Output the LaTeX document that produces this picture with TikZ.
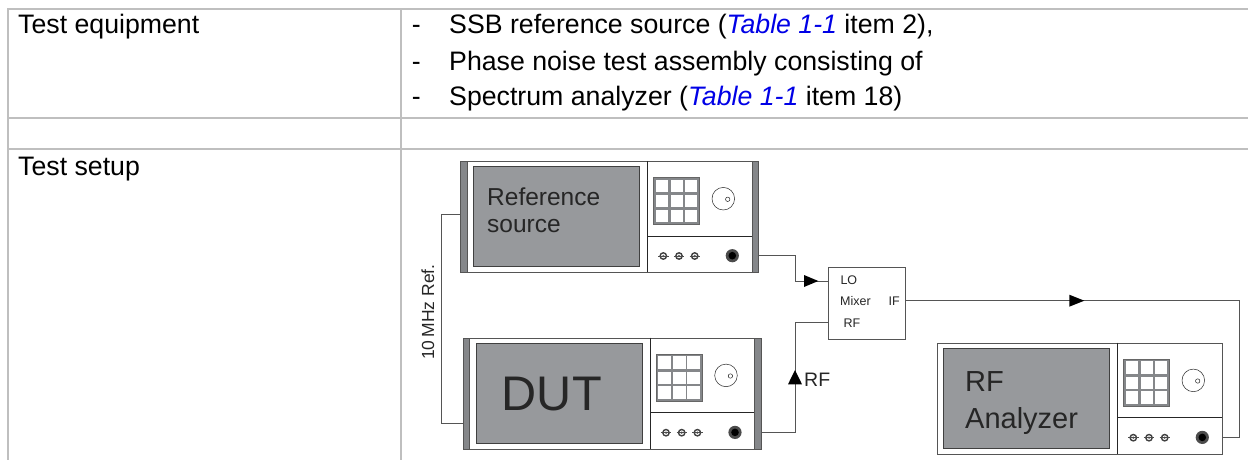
\documentclass[tikz,border=0pt]{standalone}
\usepackage{fontspec}
\setmainfont{Liberation Sans}
\definecolor{tableline}{HTML}{BFBFBF}
\definecolor{screengray}{HTML}{97999C}
\definecolor{inkgray}{HTML}{555555}
\definecolor{barfill}{HTML}{85878A}
\definecolor{linkblue}{HTML}{0000E6}
\newcommand{\fsz}[1]{\fontsize{#1}{#1}\selectfont}
\newcommand{\tlink}{\textcolor{linkblue}{\itshape Table 1-1}}
\tikzset{
  x=1pt,y=-1pt,
  tablerule/.style={draw=tableline,line width=1.6pt},
  tabletext/.style={anchor=base west,inner sep=0pt,font=\fsz{26.7}},
  devframe/.style={draw=inkgray,fill=white,line width=0.8pt},
  devline/.style={draw=black!85,line width=0.6pt},
  devscreen/.style={draw=black!75,fill=screengray,line width=0.7pt},
  devtext/.style={anchor=base west,inner sep=0pt,text=black!85},
  wire/.style={draw=inkgray,line width=0.9pt},
  flowhead/.style={fill=black,draw=none},
  keypad/.style={fill=barfill,draw=black!60,line width=0.4pt},
  keycell/.style={fill=white,draw=none},
  smalltext/.style={anchor=base west,inner sep=0pt,font=\fsz{12.5},text=black!85}
}
% #1 prefix, #2 dx, #3 dy
\newcommand{\devbody}[3]{%
  \begin{scope}[shift={(#2,#3)}]
    \node[devframe,anchor=north west,minimum width=285pt,minimum height=111pt,inner sep=0pt] (#1) at (466.7,161) {};
    \draw[devline] (647.3,161) -- (647.3,272);
    \draw[devline] (647.3,236) -- (751.7,236);
    \node[devscreen,anchor=north west,minimum width=165.7pt,minimum height=100pt,inner sep=0pt] (#1screen) at (473.3,166) {};
    \node[keypad,anchor=north west,minimum width=46pt,minimum height=46.7pt,inner sep=0pt] (#1pad) at (653.3,177.3) {};
    \foreach \kx in {655.7,670.7,684.7}{\foreach \ky in {179.7,195,209.7}{
      \fill[keycell] (\kx,\ky) rectangle ++(12.3,12.3);}}
    \draw[black!85,line width=0.5pt] (723.3,198.7) circle[radius=11.3];
    \draw[black!85,line width=0.5pt] (727.7,199.3) circle[radius=2.2];
    \foreach \cx in {663.3,679,694.7}{
      \draw[black!75,line width=1.4pt] (\cx,256) circle[radius=3.2];
      \fill[black!60] (\cx,256) circle[radius=1.3];
      \draw[black!70,line width=0.6pt] (\cx-5.2,256) -- (\cx+5.2,256);}
    \fill[black!70] (732.3,255.7) circle[radius=6.6];
    \fill[black] (732.3,255.7) circle[radius=3.8];
  \end{scope}}
\newcommand{\devbars}[3]{%
  \begin{scope}[shift={(#2,#3)}]
    \node[draw=inkgray,fill=barfill,line width=0.5pt,anchor=north west,minimum width=6.6pt,minimum height=111pt,inner sep=0pt] (#1L) at (460,161) {};
    \node[draw=inkgray,fill=barfill,line width=0.5pt,anchor=north west,minimum width=6.6pt,minimum height=111pt,inner sep=0pt] (#1R) at (751.7,161) {};
  \end{scope}}
\begin{document}
\begin{tikzpicture}
\useasboundingbox (0,0) rectangle (1248,460);
% table
\draw[tablerule] (8,460) -- (8,9) -- (1248,9);
\draw[tablerule] (8,118) -- (1248,118);
\draw[tablerule] (8,149) -- (1248,149);
\draw[tablerule] (401,9) -- (401,460);
\node[tabletext] (tequip) at (18,33.3) {Test equipment};
\node[tabletext] (tsetup) at (18,175.7) {Test setup};
\node[tabletext] (d1) at (411.7,33.3) {-};
\node[tabletext] (d2) at (411.7,70.7) {-};
\node[tabletext] (d3) at (411.7,105) {-};
\node[tabletext] (l1) at (449,33.3) {SSB reference source (\tlink{} item 2),};
\node[tabletext] (l2) at (449,70.7) {Phase noise test assembly consisting of};
\node[tabletext] (l3) at (449,105) {Spectrum analyzer (\tlink{} item 18)};
% devices
\devbody{ref}{0}{0}\devbars{ref}{0}{0}
\devbody{dut}{2.7}{176.7}\devbars{dut}{2.7}{176.7}
\devbody{ana}{470}{181.7}
\node[devtext,font=\fsz{24.5}] (reftxt1) at (487,205) {Reference};
\node[devtext,font=\fsz{24.5}] (reftxt2) at (487,232.7) {source};
\node[devtext,font=\fsz{48.6}] (duttxt) at (501.7,410) {DUT};
\node[devtext,font=\fsz{29}] (anatxt1) at (965,391.7) {RF};
\node[devtext,font=\fsz{29}] (anatxt2) at (965,428.3) {Analyzer};
% mixer
\node[devframe,anchor=north west,minimum width=76.7pt,minimum height=72.3pt,inner sep=0pt] (mixer) at (828.3,266.7) {};
\node[smalltext] (mlo) at (840.3,284.5) {LO};
\node[smalltext] (mmx) at (840,305) {Mixer};
\node[smalltext] (mif) at (888.5,305) {IF};
\node[smalltext] (mrf) at (843.5,327) {RF};
% ports
\coordinate (refin) at (refL.west |- 0,214.3);
\coordinate (dutin) at (dutL.west |- 0,423.3);
\coordinate (refout) at (refR.east |- 0,255.7);
\coordinate (dutout) at (dutR.east |- 0,432.3);
\coordinate (anaout) at (ana.east |- 0,437.3);
\coordinate (mlop) at (mixer.west |- 0,281);
\coordinate (mrfp) at (mixer.west |- 0,322.7);
\coordinate (mifp) at (mixer.east |- 0,300.7);
% wires
\draw[wire] (refin) -- (441,214.3) -- (441,423.3) -- (dutin);
\draw[wire] (refout) -- (795,255.7) -- (795,281) -- (mlop);
\draw[wire] (dutout) -- (795,432.3) -- (795,322.7) -- (mrfp);
\draw[wire] (mifp) -- (1239.3,300.7) -- (1239.3,437.3) -- (anaout);
\fill[flowhead] (804,275) -- (818.3,281) -- (804,287) -- cycle;
\fill[flowhead] (788,384.3) -- (795,370) -- (802,384.3) -- cycle;
\fill[flowhead] (1069.3,294.7) -- (1084.3,300.7) -- (1069.3,306.7) -- cycle;
\node[devtext,font=\fsz{19.5}] (rflabel) at (804,386.5) {RF};
\node[devtext,font=\fsz{17.5},rotate=90] (tenmhz) at (434,360) {10\,MHz Ref.};
\end{tikzpicture}
\end{document}
